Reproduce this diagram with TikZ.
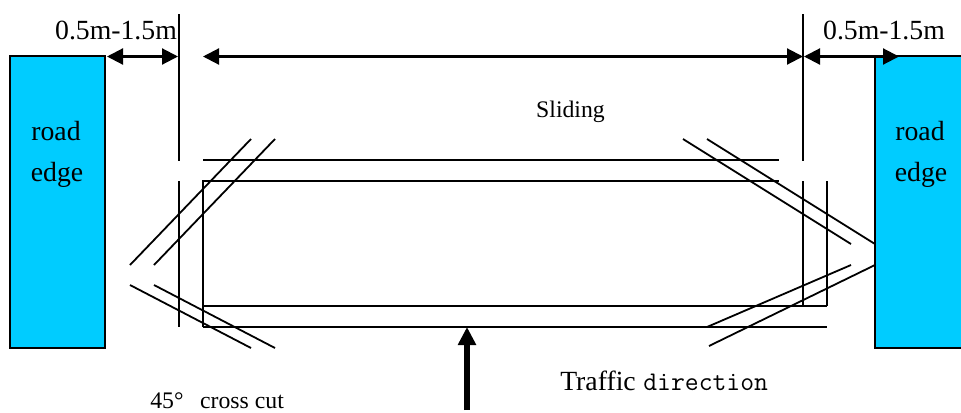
\documentclass[tikz,border=0pt]{standalone}
\usepackage{fontspec}
\setmainfont{Liberation Serif}
\usetikzlibrary{arrows.meta}
\definecolor{roadblue}{RGB}{0,204,255}
\tikzset{
  x=0.75pt,y=-0.75pt,
  line/.style={draw=black,line width=1.35pt,line cap=butt},
  road/.style={draw=black,fill=roadblue,line width=1.5pt,minimum height=219pt,inner sep=0pt,outer sep=0pt},
  dim/.style={draw=black,line width=1.6pt,{Triangle[length=12pt,width=12pt]}-{Triangle[length=12pt,width=12pt]},shorten >=0pt,shorten <=0pt},
  big/.style={inner sep=0pt,anchor=base,font=\fontsize{20.8pt}{25pt}\selectfont},
  small/.style={inner sep=0pt,anchor=base,font=\fontsize{17.8pt}{21pt}\selectfont},
}
\begin{document}
\begin{tikzpicture}
\useasboundingbox (0,0) rectangle (961,412);
\clip (0,0) rectangle (961,412);
\node[road,minimum width=70.9pt] (leftroad) at (57.75,202.25) {};
\node[road,minimum width=67.5pt] (rightroad) at (920,202.25) {};
\node[big] (lr1) at (56,140) {road};
\node[big] (lr2) at (57,181) {edge};
\node[big] (rr1) at (920,140) {road};
\node[big] (rr2) at (921,181) {edge};
\node[big] (lw) at (116,39) {0.5m-1.5m};
\node[big] (rw) at (884,39) {0.5m-1.5m};
\node[small] (sl) at (570.5,117) {Sliding};
\node[small,anchor=base west] (cc) at (150,408) {45°\hspace{12.5pt}cross cut};
\node[big,anchor=base west] (tr) at (560,390) {Traffic};
\node[big,anchor=base west,font=\ttfamily\fontsize{20.2pt}{24pt}\selectfont] (di) at (643,390) {direction};
% guide coordinates
\foreach \n/\x/\y in {
 a1/179/14, a2/179/161, a3/179/181, a4/179/327,
 b1/803/14, b2/803/161, b3/803/181, b4/803/306,
 t1/203/160, t2/779/160, u1/203/181, u2/779/181,
 v1/203/306, v2/827/306, w1/203/327, w2/827/327,
 r1/827/181,
 d1/251/139, d2/130/265, d3/275/139, d4/154/265,
 e1/130/285, e2/251/348, e3/154/285, e4/275/348,
 f1/683/139, f2/851/244, f3/707/139, f4/875/244,
 g1/851/265, g2/707/327, g3/875/265, g4/709/346,
 h1/107/56.5, h2/178/56.5, i1/203/56.5, i2/803/56.5, j1/804/56.5, j2/899/56.5,
 k1/467/410, k2/467/327}
 {\coordinate (\n) at (\x,\y);}
\draw[line] (a1)--(a2) (a3)--(a4) (b1)--(b2) (b3)--(b4);
\draw[line] (t1)--(t2) (v1)--(v2) (w1)--(w2);
\draw[line] (w1)--(u1)--(u2);
\draw[line] (v2)--(r1);
\draw[line] (d1)--(d2) (d3)--(d4) (e1)--(e2) (e3)--(e4);
\draw[line] (f1)--(f2) (f3)--(f4) (g1)--(g2) (g3)--(g4);
\draw[dim] (h1)--(h2);
\draw[dim] (i1)--(i2);
\draw[dim] (j1)--(j2);
\draw[draw=black,line width=4.5pt,-{Triangle[length=13.5pt,width=13pt]}] (k1)--(k2);
\end{tikzpicture}
\end{document}
